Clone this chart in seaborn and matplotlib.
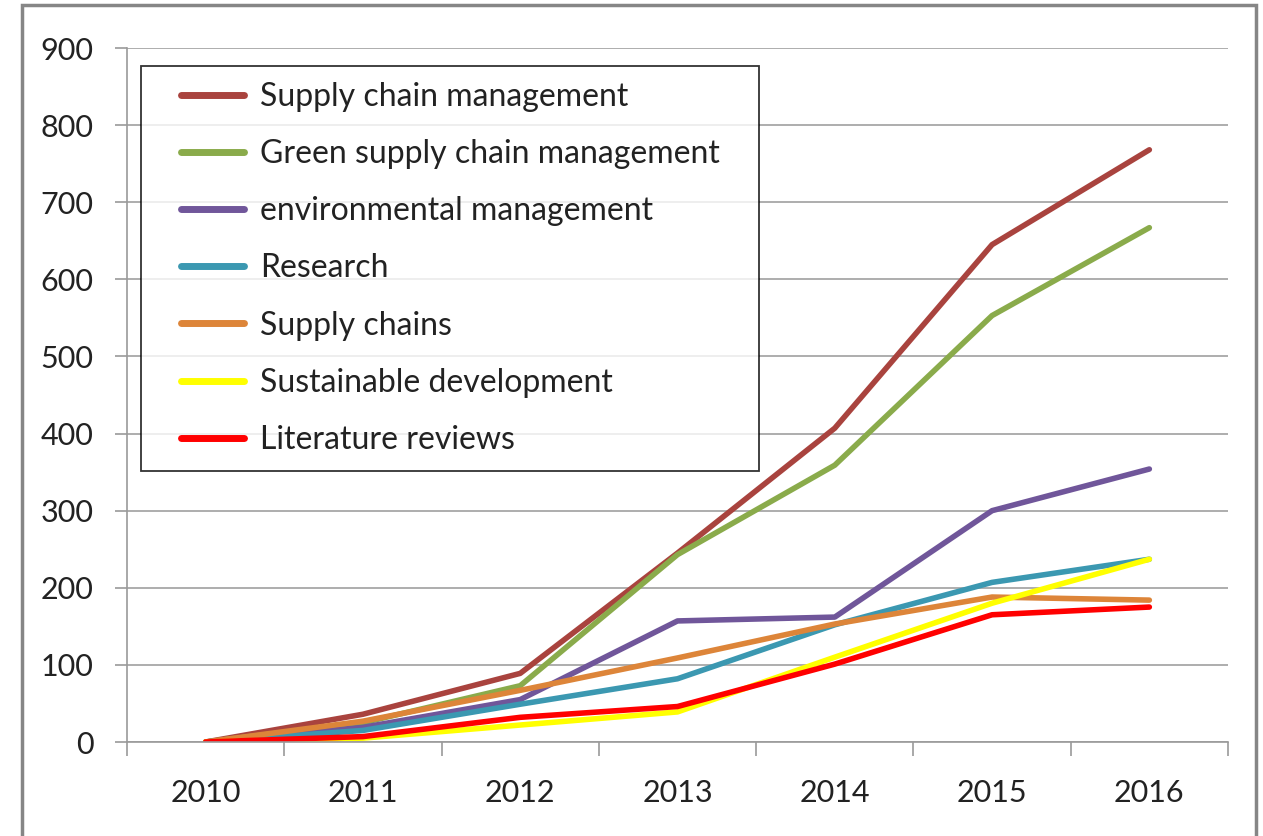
import matplotlib
matplotlib.use("Agg")
import matplotlib.pyplot as plt
import seaborn as sns
import pandas as pd
import numpy as np
from matplotlib.patches import Rectangle
from matplotlib.ticker import FixedLocator, MultipleLocator
from matplotlib.lines import Line2D
from matplotlib.legend_handler import HandlerLine2D

years = ["2010", "2011", "2012", "2013", "2014", "2015", "2016"]
series_names = [
    "Supply chain management",
    "Green supply chain management",
    "environmental management",
    "Research",
    "Supply chains",
    "Sustainable development",
    "Literature reviews",
]
supply_chain_management = [0, 36, 89, 245, 407, 645, 768]
green_supply_chain_management = [0, 25, 73, 243, 359, 553, 667]
environmental_management = [0, 19, 55, 157, 162, 300, 354]
research = [0, 15, 49, 82, 152, 207, 237]
supply_chains = [0, 27, 67, 109, 153, 188, 184]
sustainable_development = [0, 5, 22, 39, 110, 180, 237]
literature_reviews = [0, 7, 32, 46, 101, 165, 175]

values = [supply_chain_management, green_supply_chain_management,
          environmental_management, research, supply_chains,
          sustainable_development, literature_reviews]
colors = ["#A9433E", "#8AAB4B", "#70569A", "#3B98B1", "#DD8539", "#FFFF00", "#FF0000"]

rows = []
for name, vals in zip(series_names, values):
    for i, v in enumerate(vals):
        rows.append({"series": name, "x": i, "value": v})
df = pd.DataFrame(rows)

sns.set_theme(style="white")
plt.rcParams['font.family'] = ['Lato', 'DejaVu Sans']

fig = plt.figure(figsize=(12.63, 8.36), dpi=100)
ax = fig.add_axes([127/1263, 1-742/836, (1228-127)/1263, (742-48)/836])

sns.lineplot(data=df, x="x", y="value", hue="series", hue_order=series_names,
             palette=colors, linewidth=4.0, ax=ax, legend=False, sort=False)

ax.set_xlim(-0.5, 6.5)
ax.set_ylim(0, 900)
ax.yaxis.set_major_locator(MultipleLocator(100))
ax.set_xticks(range(len(years)))
ax.set_xticklabels(years)
ax.xaxis.set_minor_locator(FixedLocator(np.arange(-0.5, 7.0, 1.0)))
ax.tick_params(axis='x', which='major', length=0, pad=27, labelsize=22, colors='#222222')
ax.tick_params(axis='x', which='minor', length=10, width=1.2, color='#9a9a9a', direction='out', bottom=True)
ax.tick_params(axis='y', which='major', length=9, width=1.2, direction='out', left=True,
               labelsize=22, pad=15, labelcolor='#222222', color='#9a9a9a')
ax.set_xlabel("")
ax.set_ylabel("")
ax.grid(axis='y', color='#a0a0a0', linewidth=1.2)
ax.set_axisbelow(True)
for s in ["top", "right"]:
    ax.spines[s].set_visible(False)
for s in ["left", "bottom"]:
    ax.spines[s].set_color('#9a9a9a')
    ax.spines[s].set_linewidth(1.2)

handles = [Line2D([0], [0], color=c, linewidth=5.0, solid_capstyle='round') for c in colors]
leg = ax.legend(handles, series_names, loc='upper left',
                bbox_to_anchor=(0.0127, 0.3991, 0.5613, 0.575), mode='expand',
                frameon=True, fancybox=False, edgecolor='black', fontsize=23,
                handlelength=2.727, handletextpad=0.502, labelspacing=0.85,
                borderpad=0.5, borderaxespad=0,
                handler_map={Line2D: HandlerLine2D(xpad=0.752)})
leg.get_frame().set_linewidth(1.3)
for t in leg.get_texts():
    t.set_color('#222222')

fig.patches.append(Rectangle((22/1263, -0.01), (1256-22)/1263, 1-5/836+0.01,
                             transform=fig.transFigure, fill=False,
                             edgecolor='#868686', linewidth=2.5))

fig.savefig("out.png", dpi=100)
